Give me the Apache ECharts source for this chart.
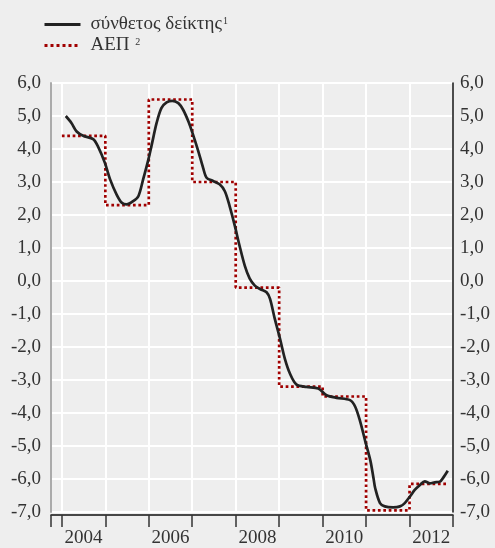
<!DOCTYPE html>
<html>
<head>
<meta charset="utf-8">
<script src="https://cdn.jsdelivr.net/npm/echarts@6/dist/echarts.min.js"></script>
<style>
  html, body { margin: 0; padding: 0; background: #eeeeee; }
  #chart { width: 495px; height: 548px; }
</style>
</head>
<body>
<div id="chart"></div>
<script>
// composite index (decimal years)
const indexDates = [
  2004.09, 2004.22, 2004.34, 2004.49, 2004.72, 2004.83, 2004.99, 2005.11, 2005.26, 2005.38,
  2005.49, 2005.64, 2005.76, 2005.87, 2005.99, 2006.06, 2006.18, 2006.29, 2006.41, 2006.54,
  2006.68, 2006.79, 2006.91, 2007.02, 2007.14, 2007.25, 2007.33, 2007.48, 2007.63, 2007.75,
  2007.86, 2007.98, 2008.09, 2008.21, 2008.32, 2008.44, 2008.57, 2008.71, 2008.79, 2008.90,
  2009.02, 2009.13, 2009.25, 2009.40, 2009.63, 2009.90, 2010.09, 2010.32, 2010.63, 2010.75,
  2010.86, 2010.98, 2011.10, 2011.17, 2011.21, 2011.32, 2011.43, 2011.62, 2011.78, 2011.89,
  2012.01, 2012.12, 2012.24, 2012.35, 2012.47, 2012.58, 2012.70, 2012.78, 2012.88
]
const indexValues = [
  5.00, 4.79, 4.53, 4.40, 4.30, 4.08, 3.58, 3.08, 2.62, 2.37,
  2.32, 2.42, 2.57, 3.08, 3.68, 4.08, 4.79, 5.24, 5.41, 5.46,
  5.39, 5.19, 4.84, 4.43, 3.93, 3.43, 3.13, 3.03, 2.93, 2.72,
  2.27, 1.67, 1.06, 0.46, 0.08, -0.14, -0.25, -0.34, -0.54, -1.15,
  -1.75, -2.35, -2.81, -3.14, -3.21, -3.26, -3.46, -3.54, -3.61, -3.81,
  -4.24, -4.85, -5.45, -5.97, -6.28, -6.73, -6.83, -6.86, -6.83, -6.73,
  -6.53, -6.33, -6.18, -6.07, -6.13, -6.10, -6.08, -5.95, -5.75
]

// annual GDP growth (step line)
const gdpYears = [2004, 2005, 2006, 2007, 2008, 2009, 2010, 2011, 2012]
const gdpValues = [4.4, 2.3, 5.5, 3.0, -0.2, -3.2, -3.5, -6.95, -6.15]
const gdpEnd = 2012.88

const tickYears = [2003.75, 2004, 2005, 2006, 2007, 2008, 2009, 2010, 2011, 2012, 2013]
const labelYears = [2004.5, 2006.5, 2008.5, 2010.5, 2012.5]

const font = 'Liberation Serif'
const textColor = '#333'

const indexData = indexDates.map((d, i) => [d, indexValues[i]])
const gdpData = gdpYears.map((y, i) => [y, gdpValues[i]])
gdpData.push([gdpEnd, gdpValues[gdpValues.length - 1]])

const fmtY = v => v.toFixed(1).replace('.', ',')

const chart = echarts.init(document.getElementById('chart'))
chart.setOption({
  animation: false,
  backgroundColor: '#eeeeee',
  grid: { left: 51, right: 42, top: 83, bottom: 34 },
  legend: {
    orient: 'vertical',
    left: 43,
    top: 15,
    padding: 0,
    itemWidth: 36,
    itemHeight: 14,
    itemGap: 2,
    data: ['σύνθετος δείκτης', 'ΑΕΠ'],
    itemStyle: { opacity: 0 },
    lineStyle: { width: 3 },
    formatter: name => name === 'ΑΕΠ' ? '{t|ΑΕΠ }{s|2}' : '{t|' + name + '}{s|1}',
    textStyle: {
      fontFamily: font,
      fontSize: 19,
      color: textColor,
      rich: {
        t: { fontFamily: font, fontSize: 19, lineHeight: 16, color: textColor, padding: [0, 0, 0, 5] },
        s: { fontFamily: font, fontSize: 10, color: textColor, verticalAlign: 'top', padding: [0, 0, 0, 1] }
      }
    }
  },
  xAxis: {
    type: 'value',
    min: 2003.75,
    max: 2013,
    interval: 0.25,
    offset: 3,
    axisLine: { onZero: false, lineStyle: { color: '#111', width: 1.5 } },
    axisTick: { customValues: tickYears, length: 12, lineStyle: { color: '#333', width: 1.5 } },
    axisLabel: {
      customValues: labelYears,
      formatter: v => String(Math.floor(v)),
      margin: 14,
      fontFamily: font,
      fontSize: 19,
      color: textColor
    },
    splitLine: { show: true, lineStyle: { color: '#ffffff', width: 2 } }
  },
  yAxis: [{
    type: 'value',
    min: -7,
    max: 6,
    interval: 1,
    axisLine: { show: true, lineStyle: { color: '#aaaaaa', width: 2 } },
    axisTick: { show: false },
    axisLabel: { margin: 10, formatter: fmtY, fontFamily: font, fontSize: 19, color: textColor },
    splitLine: { show: true, lineStyle: { color: '#ffffff', width: 2 } }
  }, {
    type: 'value',
    position: 'right',
    min: -7,
    max: 6,
    interval: 1,
    axisLine: { show: true, lineStyle: { color: '#111', width: 1.5 } },
    axisTick: { show: false },
    axisLabel: { margin: 7, formatter: fmtY, fontFamily: font, fontSize: 19, color: textColor },
    splitLine: { show: false }
  }],
  series: [{
    name: 'σύνθετος δείκτης',
    type: 'line',
    data: indexData,
    smooth: 0.3,
    symbol: 'none',
    z: 3,
    itemStyle: { color: '#222' },
    lineStyle: { color: '#222', width: 2.7 }
  }, {
    name: 'ΑΕΠ',
    type: 'line',
    data: gdpData,
    step: 'end',
    symbol: 'none',
    z: 2,
    itemStyle: { color: '#a00000' },
    lineStyle: { color: '#a00000', width: 2.7, type: 'dotted', cap: 'butt' }
  }]
})
</script>
</body>
</html>
